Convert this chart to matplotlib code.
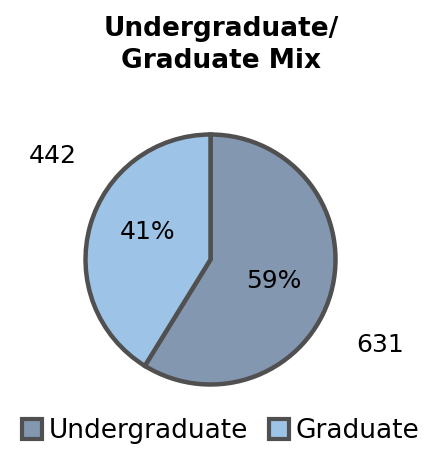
import matplotlib.pyplot as plt
from matplotlib.patches import Patch

# Data
categories = ['Undergraduate', 'Graduate']
counts = [631, 442]
colors = ['#8497b0', '#9dc3e6']
edge = '#505050'

total = sum(counts)

fig = plt.figure(figsize=(4.42, 4.49), dpi=100)
fig.patch.set_facecolor('white')

# Pie axes placed to match the reference pixel box
ax = fig.add_axes([83/442, (449-388)/449, 255/442, 257/449])
wedges, _ = ax.pie(counts, colors=colors, startangle=90, counterclock=False,
                   wedgeprops=dict(edgecolor=edge, linewidth=3.2),
                   radius=1.0)
ax.set_xlim(-1.02, 1.02)
ax.set_ylim(-1.02, 1.02)
ax.set_aspect('equal')
ax.axis('off')

# Percent labels inside slices (baseline positions)
pct_pos = [(0.508, -0.226), (-0.504, 0.163)]
for c, (px, py) in zip(counts, pct_pos):
    ax.text(px, py, '%d%%' % round(100.0 * c / total), ha='center', va='baseline',
            fontsize=18, color='black')

# Value labels outside
val_pos = [(1.356, -0.742), (-1.264, 0.774)]
for c, (px, py) in zip(counts, val_pos):
    ax.text(px, py, str(c), ha='center', va='baseline', fontsize=18,
            color='black', clip_on=False)

fig.text(0.5, 0.9, 'Undergraduate/\nGraduate Mix', ha='center', va='center',
         fontsize=19, fontweight='bold', linespacing=1.3)

handles = [Patch(facecolor=col, edgecolor=edge, linewidth=3) for col in colors]
fig.legend(handles, categories, loc='center', bbox_to_anchor=(0.5, 0.04),
           ncol=2, frameon=False, fontsize=19, handlelength=0.75, handleheight=0.75,
           handletextpad=0.25, columnspacing=0.8, borderpad=0.2)

plt.savefig('out.png', dpi=100)
